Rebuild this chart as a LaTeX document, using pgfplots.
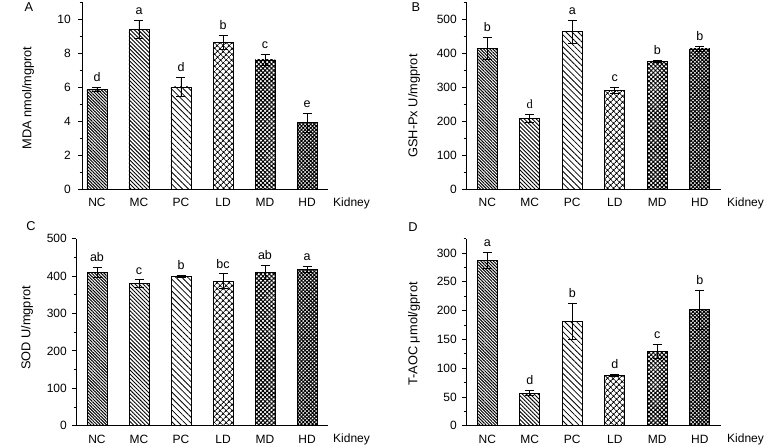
\documentclass[border=0pt]{standalone}
\usepackage{pgfplots}
\pgfplotsset{compat=1.18}
\usetikzlibrary{patterns.meta}
\usepackage{fontspec}
\setmainfont{Liberation Sans}
\newfontfamily\serifd{Liberation Serif}

\tikzset{
  pNC/.style={pattern={Lines[angle=-45,distance=2.2pt,line width=1.0pt]}},
  pMC/.style={pattern={Lines[angle=-45,distance=2.8pt,line width=0.9pt]}},
  pPC/.style={pattern={Lines[angle=-45,distance=4.2pt,line width=0.8pt]}},
  pLD/.style={pattern={Hatch[angle=45,distance=4pt,line width=1.0pt]}},
  pMD/.style={pattern={Hatch[angle=45,distance=3pt,line width=1.0pt]}},
  pHD/.style={pattern={Hatch[angle=45,distance=2.6pt,line width=1.0pt]}},
  grp/.style={anchor=south,inner sep=0pt,yshift=5.5pt,font=\fontsize{12.5}{14}\selectfont},
}

\pgfplotsset{
  panel/.style={
    ybar, bar width=20pt, bar shift=0pt,
    scale only axis, clip=false,
    axis lines=left, axis line style={-,line width=0.8pt},
    xtick={1,...,6}, xticklabels={NC,MC,PC,LD,MD,HD},
    x tick style={draw=none},
    y tick style={line width=0.8pt,black},
    tick align=outside, major tick length=4pt, minor tick length=2.5pt,
    tick label style={font=\fontsize{12}{14}\selectfont},
    /pgf/number format/assume math mode=true,
    xticklabel style={anchor=base,inner sep=0pt,yshift=-14pt},
    yticklabel style={anchor=east,inner sep=0pt},
    every axis plot/.append style={draw=black,line width=0.8pt,
      error bars/y dir=both, error bars/y explicit,
      error bars/error bar style={line width=0.9pt,black,solid},
      error bars/error mark options={rotate=90,line width=0.9pt,black,mark size=4.5pt}},
  },
}

\begin{document}
\begin{tikzpicture}[x=1pt,y=1pt]
\path[use as bounding box] (0,0) rectangle (765,446);

% A
\begin{axis}[panel, at={(82pt,257pt)}, anchor=south west,
  width=246pt, height=187pt, xmin=0.643, xmax=6.5, ymin=0, ymax=11,
  ytick={0,2,...,10}, minor ytick={1,3,...,11},
  yticklabel style={xshift=-7pt}]
\addplot[pNC] coordinates {(1,5.85) +- (0,0.12)};
\addplot[pMC] coordinates {(2,9.39) +- (0,0.54)};
\addplot[pPC] coordinates {(3,6.0) +- (0,0.54)};
\addplot[pLD] coordinates {(4,8.63) +- (0,0.42)};
\addplot[pMD] coordinates {(5,7.59) +- (0,0.31)};
\addplot[pHD] coordinates {(6,3.9) +- (0,0.55)};
\node[grp] at (axis cs:1,5.97) {d};
\node[grp] at (axis cs:2,9.93) {a};
\node[grp] at (axis cs:3,6.54) {d};
\node[grp] at (axis cs:4,9.05) {b};
\node[grp] at (axis cs:5,7.90) {c};
\node[grp] at (axis cs:6,4.45) {e};
\end{axis}

% B
\begin{axis}[panel, at={(466pt,257pt)}, anchor=south west,
  width=255pt, height=187pt, xmin=0.5, xmax=6.5, ymin=0, ymax=550,
  ytick={0,100,...,500}, minor ytick={50,150,...,550},
  yticklabel style={xshift=-5pt}]
\addplot[pNC] coordinates {(1,414) +- (0,33)};
\addplot[pMC] coordinates {(2,208) +- (0,11)};
\addplot[pPC] coordinates {(3,463) +- (0,34)};
\addplot[pLD] coordinates {(4,291) +- (0,9)};
\addplot[pMD] coordinates {(5,374.5) +- (0,3)};
\addplot[pHD] coordinates {(6,412) +- (0,8)};
\node[grp] at (axis cs:1,447) {b};
\node[grp] at (axis cs:2,219) {\serifd d};
\node[grp] at (axis cs:3,497) {a};
\node[grp] at (axis cs:4,300) {c};
\node[grp] at (axis cs:5,377.5) {b};
\node[grp] at (axis cs:6,420) {b};
\end{axis}

% C
\begin{axis}[panel, at={(76pt,20.3pt)}, anchor=south west,
  width=252pt, height=187pt, xmin=0.5, xmax=6.5, ymin=0, ymax=500,
  ytick={0,100,...,500}, minor ytick={50,150,...,450},
  yticklabel style={xshift=-5pt}]
\addplot[pNC] coordinates {(1,410) +- (0,14)};
\addplot[pMC] coordinates {(2,380) +- (0,10)};
\addplot[pPC] coordinates {(3,399.5) +- (0,3)};
\addplot[pLD] coordinates {(4,386) +- (0,20)};
\addplot[pMD] coordinates {(5,410) +- (0,18)};
\addplot[pHD] coordinates {(6,417) +- (0,8)};
\node[grp] at (axis cs:1,424) {ab};
\node[grp] at (axis cs:2,390) {c};
\node[grp] at (axis cs:3,402.5) {b};
\node[grp] at (axis cs:4,406) {bc};
\node[grp] at (axis cs:5,428) {ab};
\node[grp] at (axis cs:6,425) {a};
\end{axis}

% D
\begin{axis}[panel, at={(466pt,20.3pt)}, anchor=south west,
  width=255pt, height=187pt, xmin=0.5, xmax=6.5, ymin=0, ymax=325,
  ytick={0,50,...,300}, minor ytick={25,75,...,325},
  yticklabel style={xshift=-5pt}]
\addplot[pNC] coordinates {(1,287) +- (0,14)};
\addplot[pMC] coordinates {(2,56.8) +- (0,4)};
\addplot[pPC] coordinates {(3,181) +- (0,31)};
\addplot[pLD] coordinates {(4,87) +- (0,2)};
\addplot[pMD] coordinates {(5,129) +- (0,11.6)};
\addplot[pHD] coordinates {(6,201.5) +- (0,34)};
\node[grp] at (axis cs:1,301) {a};
\node[grp] at (axis cs:2,60.8) {d};
\node[grp] at (axis cs:3,212) {b};
\node[grp] at (axis cs:4,89) {d};
\node[grp] at (axis cs:5,140.6) {c};
\node[grp] at (axis cs:6,235.5) {b};
\end{axis}

% labels
\begin{scope}[every node/.style={font=\fontsize{12.8}{14}\selectfont,inner sep=0pt}]
\node[rotate=90] at (28,348) {MDA nmol/mgprot};
\node[rotate=90] at (414,340) {GSH-Px U/mgprot};
\node[rotate=90] at (27,118) {SOD U/mgprot};
\node[rotate=90] at (414,112) {T-AOC μmol/gprot};
\node at (29,438.5) {A};
\node at (416,439) {B};
\node at (31,220) {C};
\node at (413,219) {D};
\end{scope}
\begin{scope}[every node/.style={font=\fontsize{12}{14}\selectfont,inner sep=0pt,anchor=base west}]
\node at (333,239.5) {Kidney};
\node at (727,239.5) {Kidney};
\node at (333,3) {Kidney};
\node at (727,3) {Kidney};
\end{scope}
\end{tikzpicture}
\end{document}
